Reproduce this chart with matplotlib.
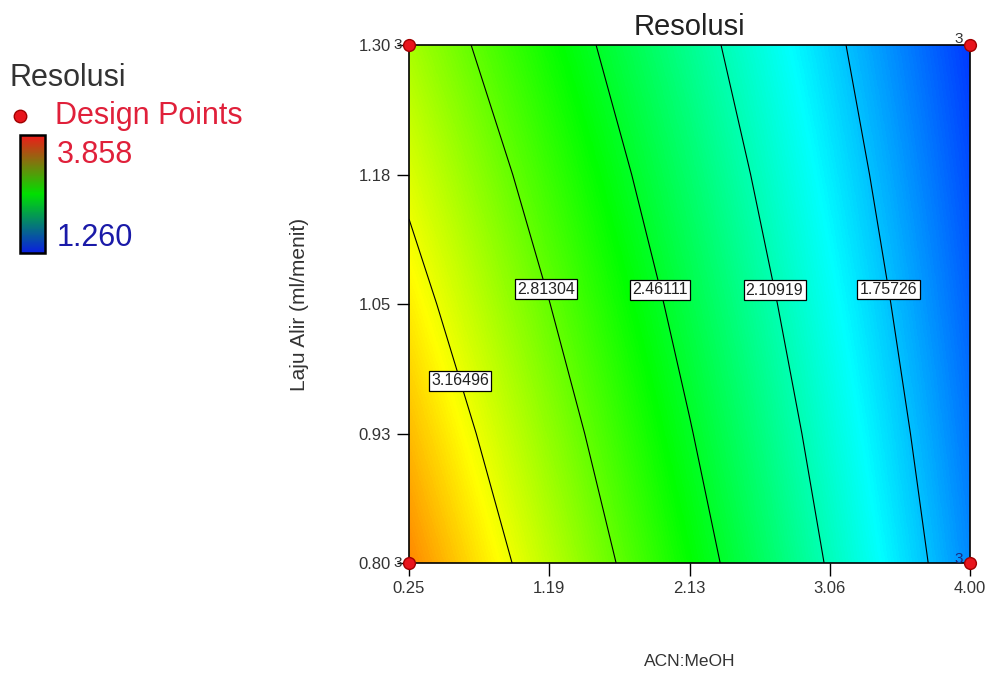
import matplotlib
matplotlib.use("Agg")
import matplotlib.pyplot as plt
from matplotlib.colors import LinearSegmentedColormap, Normalize
from matplotlib.cm import ScalarMappable
import numpy as np

plt.rcParams['font.family'] = ['Liberation Sans', 'DejaVu Sans']

# grid (rows = flow rate, cols = ACN:MeOH)
acn = [0.25, 1.1875, 2.125, 3.0625, 4.0]
flow = [0.80, 0.925, 1.05, 1.175, 1.30]
resolusi = [
    [3.514, 3.039, 2.565, 2.090, 1.616],
    [3.383, 2.928, 2.473, 2.019, 1.564],
    [3.251, 2.816, 2.382, 1.947, 1.512],
    [3.120, 2.705, 2.290, 1.875, 1.460],
    [2.988, 2.593, 2.198, 1.803, 1.409],
]
levels = [1.75726, 2.10919, 2.46111, 2.81304, 3.16496]
label_pos = [(3.459, 1.064), (2.710, 1.064), (1.941, 1.064), (1.179, 1.065), (0.504, 0.972)]

xtick_labels = ['0.25', '1.19', '2.13', '3.06', '4.00']
ytick_labels = ['0.80', '0.93', '1.05', '1.18', '1.30']

design_acn = [0.25, 0.25, 4.0, 4.0]
design_flow = [0.80, 1.30, 0.80, 1.30]
replicates = [3, 3, 3, 3]

r_min, r_max = 1.260, 3.858

cmap = LinearSegmentedColormap.from_list('de', ['#0000ff', '#00ffff', '#00ff00', '#ffff00', '#ff0000'])
legend_cmap = LinearSegmentedColormap.from_list('leg', ['#0a1ee0', '#00e000', '#f01a1a'])
norm = Normalize(vmin=r_min, vmax=r_max)

fig = plt.figure(figsize=(9.87, 6.75), dpi=100)
ax = fig.add_axes([409 / 987, 1 - 563 / 675, 561 / 987, 518 / 675])

Z = np.array(resolusi)
dx = (acn[1] - acn[0]) / 2
dy = (flow[1] - flow[0]) / 2
ax.imshow(Z, origin='lower', aspect='auto', cmap=cmap, norm=norm,
          interpolation='bilinear', interpolation_stage='data',
          extent=[acn[0] - dx, acn[-1] + dx, flow[0] - dy, flow[-1] + dy])
X, Y = np.meshgrid(acn, flow)
cs = ax.contour(X, Y, Z, levels=levels, colors='black', linewidths=0.8)
cl = ax.clabel(cs, fmt='%.5f', manual=label_pos, inline=False, fontsize=11.5)
for t in cl:
    t.set_bbox(dict(boxstyle='square,pad=0.14', fc='white', ec='black', lw=0.9))
    t.set_rotation(0)
    t.set_color('#222222')

ax.plot(design_acn, design_flow, 'o', color='#e8141c', mec='#a00000', ms=8.5,
        clip_on=False, zorder=6)
for a, b, n in zip(design_acn, design_flow, replicates):
    if a < 1:
        ax.annotate(str(n), (a, b), xytext=(-5, 0), textcoords='offset points',
                    ha='right', va='center', fontsize=11, color='#333333')
    else:
        col = '#333333' if b > 1 else '#1a2a80'
        ax.annotate(str(n), (a, b), xytext=(-5, 4 if b > 1 else 3), textcoords='offset points',
                    ha='right', va='center', fontsize=11, color=col)

ax.set_xlim(0.25, 4.0)
ax.set_ylim(0.80, 1.30)
ax.set_xticks(acn)
ax.set_xticklabels(xtick_labels)
ax.set_yticks(flow)
ax.set_yticklabels(ytick_labels)
ax.tick_params(direction='out', length=9, width=1, labelsize=12, labelcolor='#333333', pad=4)
for s in ax.spines.values():
    s.set_linewidth(1.2)

ax.set_title('Resolusi', fontsize=21, pad=7, color='#222222')
ax.set_xlabel('ACN:MeOH', fontsize=12.5, color='#333333')
ax.xaxis.set_label_coords(0.5, -0.176)
ax.set_ylabel('Laju Alir (ml/menit)', fontsize=15, color='#333333')
ax.yaxis.set_label_coords(-0.178, 0.5)

# legend block on the left
fig.text(10 / 987, 1 - 78 / 675, 'Resolusi', fontsize=22, color='#333333', va='center')
fig.lines.append(plt.Line2D([20 / 987], [1 - 116 / 675], marker='o', color='#e8141c', mec='#a00000',
                            ms=9, transform=fig.transFigure))
fig.text(55 / 987, 1 - 116 / 675, 'Design Points', fontsize=22, color='#e0203a', va='center')
cax = fig.add_axes([20 / 987, 1 - 253 / 675, 25 / 987, 118 / 675])
cb = fig.colorbar(ScalarMappable(norm=norm, cmap=legend_cmap), cax=cax)
cb.set_ticks([])
cb.outline.set_linewidth(1.8)
fig.text(57 / 987, 1 - 155 / 675, f'{r_max:.3f}', fontsize=22, color='#e0203a', va='center')
fig.text(57 / 987, 1 - 238 / 675, f'{r_min:.3f}', fontsize=22, color='#1a1aa8', va='center')

fig.savefig('out.png', dpi=100)
